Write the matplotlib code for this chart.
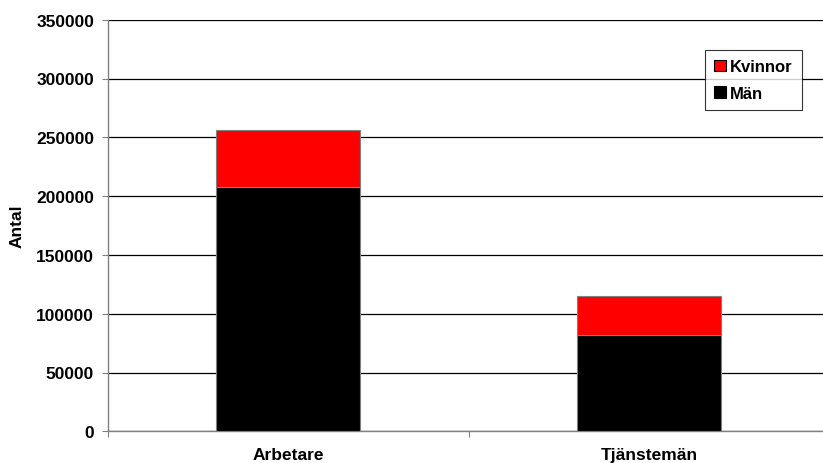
import matplotlib.pyplot as plt
import numpy as np

plt.rcParams['font.family'] = ['Liberation Sans', 'DejaVu Sans']
plt.rcParams['font.weight'] = 'bold'

# ======= Data =======
categories = ["Arbetare", "Tjänstemän"]
man = [208000, 82000]
kvinnor = [48200, 33300]

FS = 12.5

fig = plt.figure(figsize=(8.23, 4.64), dpi=100)
ax = fig.add_axes([108 / 823, (464 - 432.3) / 464, 721.4 / 823, 411.6 / 464])

x = np.arange(len(categories))
w = 0.40
ax.bar(x, man, width=w, color="black", edgecolor="#808080", linewidth=0.8,
       label="Män", zorder=3)
ax.bar(x, kvinnor, width=w, bottom=man, color="#ff0000", edgecolor="#808080",
       linewidth=0.8, label="Kvinnor", zorder=3)

ax.set_xlim(-0.5, 1.5)
ax.set_ylim(0, 350000)
ax.set_yticks(np.arange(0, 350001, 50000))
ax.yaxis.grid(True, color="black", linewidth=0.9, zorder=0)
ax.set_axisbelow(True)

ax.set_xticks([-0.5, 0.5, 1.5])
ax.set_xticklabels([])
ax.set_xticks(x, minor=True)
ax.set_xticklabels(categories, minor=True, fontsize=FS, fontweight="bold")
ax.tick_params(axis="x", which="minor", length=0, pad=11)
ax.tick_params(axis="x", which="major", length=4, color="#808080", direction="out")
ax.tick_params(axis="y", length=4, color="#808080", labelsize=FS, pad=6)
for lbl in ax.get_yticklabels():
    lbl.set_fontweight("bold")

for s in ["top", "right"]:
    ax.spines[s].set_visible(False)
for s in ["left", "bottom"]:
    ax.spines[s].set_color("#808080")
    ax.spines[s].set_linewidth(1.0)

ax.set_ylabel("Antal", fontsize=FS, fontweight="bold", labelpad=8)

handles, labels = ax.get_legend_handles_labels()
leg = ax.legend(handles[::-1], labels[::-1], loc="upper left",
                bbox_to_anchor=((705 - 108) / 721.4, (432.3 - 51) / 411.6),
                frameon=True, fancybox=False, edgecolor="black",
                prop={"size": 12, "weight": "bold"},
                handlelength=0.7, handleheight=0.7, handletextpad=0.25,
                borderpad=0.55, labelspacing=0.7, borderaxespad=0)
leg.get_frame().set_linewidth(0.8)
for p in leg.get_patches():
    p.set_edgecolor("black")

fig.savefig("out.png", dpi=100)
